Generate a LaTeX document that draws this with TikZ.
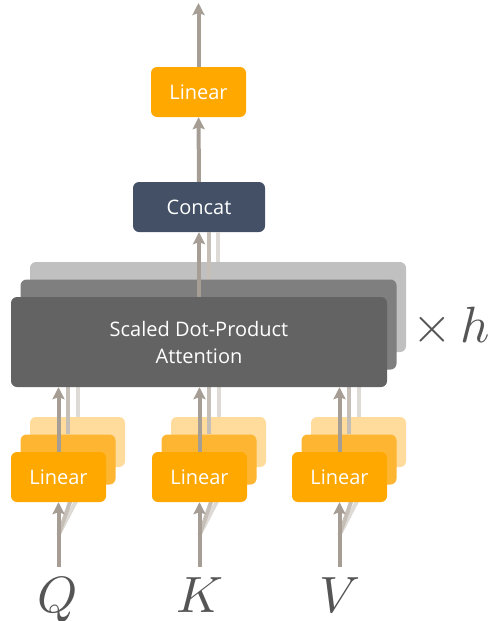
\documentclass[tikz,border=0pt]{standalone}
\usepackage{fontspec}
\setsansfont{Open Sans}
\usepackage{xcolor}
\definecolor{linfront}{HTML}{FFA800}
\definecolor{linmid}{HTML}{FDB532}
\definecolor{linback}{HTML}{FFDB9C}
\definecolor{attfront}{HTML}{636363}
\definecolor{attmid}{HTML}{7F7F7F}
\definecolor{attback}{HTML}{C0C0C0}
\definecolor{concatblue}{HTML}{435066}
\definecolor{arrow1}{HTML}{A69E95}
\definecolor{arrow2}{HTML}{C5BFB8}
\definecolor{arrow3}{HTML}{DEDAD6}
\definecolor{mathgray}{HTML}{555555}
\usepackage{tikz}
\usetikzlibrary{arrows.meta}

\begin{document}
\begin{tikzpicture}[x=1pt, y=-1pt,
    box/.style={rounded corners=6pt, inner sep=0pt, text=white, align=center,
      font=\sffamily\fontsize{20}{27}\selectfont},
    linbox/.style={box, minimum width=95pt, minimum height=50pt},
    attbox/.style={box, minimum width=376pt, minimum height=90pt},
    sym/.style={text=mathgray, inner sep=0pt, scale=5.1},
    arr1/.style={draw=arrow1, line width=4pt, -{Stealth[length=12pt, width=12pt, inset=2pt]}},
    arr2/.style={arr1, draw=arrow2},
    arr3/.style={arr1, draw=arrow3},
    feed2/.style={draw=arrow2, line width=4pt},
    feed3/.style={draw=arrow3, line width=4pt}]
  \useasboundingbox (0,0) rectangle (500,621);
  % Back layer (head h)
  \node[attbox, fill=attback] (att3) at (218,307) {};
  \node[linbox, fill=linback] (lq3) at (77.5,442) {};
  \node[linbox, fill=linback] (lk3) at (218.5,442) {};
  \node[linbox, fill=linback] (lv3) at (358.5,442) {};
  \draw[arr3] (lq3) -- (lq3 |- att3.south);
  \draw[arr3] (lk3) -- (lk3 |- att3.south);
  \draw[arr3] (lv3) -- (lv3 |- att3.south);
  % Middle layer
  \node[attbox, fill=attmid] (att2) at (208.5,324.5) {};
  \node[linbox, fill=linmid] (lq2) at (68,459.5) {};
  \node[linbox, fill=linmid] (lk2) at (209,459.5) {};
  \node[linbox, fill=linmid] (lv2) at (349,459.5) {};
  \draw[arr2] (lq2) -- (lq2 |- att2.south);
  \draw[arr2] (lk2) -- (lk2 |- att2.south);
  \draw[arr2] (lv2) -- (lv2 |- att2.south);
  % Inputs forking into the heads
  \coordinate (qin) at (58.5,567);
  \coordinate (kin) at (199.5,567);
  \coordinate (vin) at (339.5,567);
  \coordinate (qfork) at (58.5,535);
  \coordinate (kfork) at (199.5,535);
  \coordinate (vfork) at (339.5,535);
  \draw[arr3] (qfork) -- ([xshift=16pt]lq3.south);
  \draw[arr3] (kfork) -- ([xshift=16pt]lk3.south);
  \draw[arr3] (vfork) -- ([xshift=16pt]lv3.south);
  \draw[arr2] (qfork) -- ([xshift=8pt]lq2.south);
  \draw[arr2] (kfork) -- ([xshift=8pt]lk2.south);
  \draw[arr2] (vfork) -- ([xshift=8pt]lv2.south);
  % Front layer (head 1)
  \node[attbox, fill=attfront] (att1) at (199,342) {Scaled Dot-Product\\Attention};
  \node[linbox, fill=linfront] (lq1) at (58.5,477) {Linear};
  \node[linbox, fill=linfront] (lk1) at (199.5,477) {Linear};
  \node[linbox, fill=linfront] (lv1) at (339.5,477) {Linear};
  \draw[arr1] (lq1) -- (lq1 |- att1.south);
  \draw[arr1] (lk1) -- (lk1 |- att1.south);
  \draw[arr1] (lv1) -- (lv1 |- att1.south);
  \draw[arr1] (qin) -- (lq1);
  \draw[arr1] (kin) -- (lk1);
  \draw[arr1] (vin) -- (lv1);
  % Concat and output
  \node[box, fill=concatblue, minimum width=132pt, minimum height=50pt] (concat) at (199,207) {Concat};
  \node[linbox, fill=linfront] (lin) at (198.5,92) {Linear};
  \coordinate (out) at (198.5,3);
  \draw[feed3] (att3) -- (att3 |- concat.south);
  \draw[feed2] (att2) -- (att2 |- concat.south);
  \draw[arr1] (att1) -- (att1 |- concat.south);
  \draw[arr1] (concat) -- (lin);
  \draw[arr1] (lin) -- (out);
  % Labels
  \node[sym, anchor=base] (q) at (58,612) {$Q$};
  \node[sym, anchor=base] (k) at (200,612) {$K$};
  \node[sym, anchor=base] (v) at (340,612) {$V$};
  \node[sym, anchor=base west] (times) at (411,342) {$\times\,h$};
\end{tikzpicture}
\end{document}
